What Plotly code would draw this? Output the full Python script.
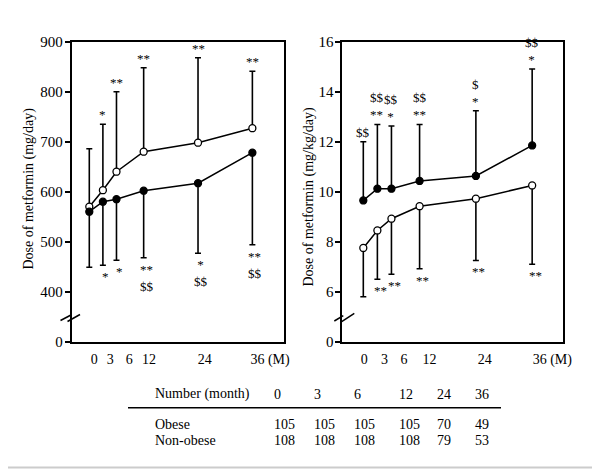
import plotly.graph_objects as go

# ---------------- data ----------------
months = [0, 3, 6, 12, 24, 36]
month_labels = ["0", "3", "6", "12", "24", "36 (M)"]

# mg/day (left panel)
obese_mgday = [570, 603, 640, 680, 698, 727]
obese_mgday_sd = [116, 132, 160, 168, 170, 114]
nonobese_mgday = [560, 580, 585, 602, 617, 678]
nonobese_mgday_sd = [111, 127, 122, 134, 140, 184]

# mg/kg/day (right panel)
obese_mgkg = [7.75, 8.45, 8.92, 9.42, 9.72, 10.25]
obese_mgkg_sd = [1.95, 1.95, 2.22, 2.5, 2.47, 3.15]
nonobese_mgkg = [9.65, 10.12, 10.12, 10.43, 10.63, 11.85]
nonobese_mgkg_sd = [2.35, 2.57, 2.51, 2.26, 2.61, 3.06]

# significance marks
left_upper_sig = ["", "*", "**", "**", "**", "**"]
left_lower_sig = ["", "*", "*", "**<br>$$", "*<br>$$", "**<br>$$"]
right_upper_sig = ["$$", "$$<br>**", "$$<br>*", "$$<br>**", "$<br>*", "$$<br>*"]
right_lower_sig = ["", "**", "**", "**", "**", "**"]

left_yticks = [300, 400, 500, 600, 700, 800, 900]
left_yticktext = ["0", "400", "500", "600", "700", "800", "900"]
right_yticks = [4, 6, 8, 10, 12, 14, 16]
right_yticktext = ["0", "6", "8", "10", "12", "14", "16"]

table_header = ["Number (month)", "0", "3", "6", "12", "24", "36"]
table_obese = ["Obese", "105", "105", "105", "105", "70", "49"]
table_nonobese = ["Non-obese", "108", "108", "108", "108", "79", "53"]

# ---------------- layout helpers ----------------
W, H = 600, 469
OFF = 8  # the page places the figure 8 px in from the top-left corner
FONT = "Liberation Serif"


def px(x):
    return (x - OFF) / W


def py(y):
    return 1 - (y - OFF) / H


fig = go.Figure()


def add_series(xa, ya, y, sd, up, filled):
    fig.add_trace(go.Scatter(
        x=months, y=y, xaxis=xa, yaxis=ya, mode="lines+markers",
        line=dict(color="black", width=1.5),
        marker=dict(size=7, color="black" if filled else "white",
                    line=dict(color="black", width=1.3)),
        error_y=dict(type="data", symmetric=False,
                     array=sd if up else [0] * len(sd),
                     arrayminus=[0] * len(sd) if up else sd,
                     color="black", thickness=1.6, width=3),
        showlegend=False, hoverinfo="skip"))


add_series("x", "y", obese_mgday, obese_mgday_sd, True, False)
add_series("x", "y", nonobese_mgday, nonobese_mgday_sd, False, True)
add_series("x2", "y2", obese_mgkg, obese_mgkg_sd, False, False)
add_series("x2", "y2", nonobese_mgkg, nonobese_mgkg_sd, True, True)

annotations = []
sig_font = dict(family=FONT, size=13, color="black")


def add_sig(xref, yref, means, sds, labels, up, xshift=0):
    for m, v, s, t in zip(months, means, sds, labels):
        if not t:
            continue
        if up:
            annotations.append(dict(x=m, y=v + s, xref=xref, yref=yref, text=t,
                                    showarrow=False, xanchor="center", yanchor="bottom",
                                    yshift=0, xshift=xshift, font=sig_font))
        else:
            annotations.append(dict(x=m, y=v - s, xref=xref, yref=yref, text=t,
                                    showarrow=False, xanchor="center", yanchor="top",
                                    yshift=-2, xshift=xshift + 3, font=sig_font))


add_sig("x", "y", obese_mgday, obese_mgday_sd, left_upper_sig, True)
add_sig("x", "y", nonobese_mgday, nonobese_mgday_sd, left_lower_sig, False)
add_sig("x2", "y2", nonobese_mgkg, nonobese_mgkg_sd, right_upper_sig, True)
add_sig("x2", "y2", obese_mgkg, obese_mgkg_sd, right_lower_sig, False)

# y-axis titles
annotations.append(dict(x=px(28.5), y=py(189), xref="paper", yref="paper",
                        xanchor="center", yanchor="middle",
                        text="Dose of metformin (mg/day)", textangle=-90,
                        showarrow=False, font=dict(family=FONT, size=14, color="black")))
annotations.append(dict(x=px(308.5), y=py(197), xref="paper", yref="paper",
                        xanchor="center", yanchor="middle",
                        text="Dose of metformin (mg/kg/day)", textangle=-90,
                        showarrow=False, font=dict(family=FONT, size=14, color="black")))

# table
col_x = [153, 272, 312, 352, 397, 435, 473]
tab_font = dict(family=FONT, size=14, color="black")
for row, yy in ((table_header, 394), (table_obese, 424), (table_nonobese, 440)):
    for t, xx in zip(row, col_x):
        annotations.append(dict(x=px(xx), y=py(yy), xref="paper", yref="paper",
                                text=t, showarrow=False, xanchor="left",
                                yanchor="middle", font=tab_font))

shapes = [
    dict(type="line", xref="paper", yref="paper", x0=px(128), x1=px(501),
         y0=py(407.7), y1=py(407.7), line=dict(color="black", width=1.5)),
    dict(type="line", xref="paper", yref="paper", x0=0, x1=1,
         y0=py(467.5), y1=py(467.5), line=dict(color="#cccccc", width=2)),
]
# axis break marks
for (x0, y0, x1, y1) in [(60.5, 320.5, 71, 315), (67.5, 321.5, 80, 314.5),
                         (334.3, 321, 343.3, 315.7), (341.7, 321.7, 354.3, 313.3)]:
    shapes.append(dict(type="line", xref="paper", yref="paper", x0=px(x0), x1=px(x1),
                       y0=py(y0), y1=py(y1), line=dict(color="black", width=1.5)))

left_tick_pos = [1.1, 4.6, 8.8, 13.2, 25.5, 39.9]
right_tick_pos = [0.2, 4.5, 8.7, 14.1, 25.9, 40.3]

axis_common = dict(showgrid=False, zeroline=False, showline=True, linecolor="black",
                   linewidth=1.8, mirror=True, automargin=False,
                   tickfont=dict(family=FONT, size=14, color="black"))
ytick_font = dict(family=FONT, size=15, color="black")

fig.update_layout(
    width=W, height=H, margin=dict(l=0, r=0, t=0, b=0, pad=0, autoexpand=False),
    paper_bgcolor="white", plot_bgcolor="white",
    font=dict(family=FONT, color="black"),
    xaxis=dict(domain=[px(71.7), px(284)], range=[-3.885, 42.98], anchor="y",
               tickvals=left_tick_pos, ticktext=month_labels, ticks="",
               ticklabelstandoff=4, **axis_common),
    yaxis=dict(domain=[py(341.7), py(41.7)], range=[300, 900], anchor="x",
               tickvals=left_yticks, ticktext=left_yticktext, ticks="outside",
               ticklen=5, tickwidth=1.5, tickcolor="black", ticklabelstandoff=-1,
               **{**axis_common, "tickfont": ytick_font}),
    xaxis2=dict(domain=[px(342.3), px(563.3)], range=[-4.48, 42.64], anchor="y2",
                tickvals=right_tick_pos, ticktext=month_labels, ticks="",
                ticklabelstandoff=4, **axis_common),
    yaxis2=dict(domain=[py(341.7), py(41.7)], range=[4, 16], anchor="x2",
                tickvals=right_yticks, ticktext=right_yticktext, ticks="outside",
                ticklen=5, tickwidth=1.5, tickcolor="black", ticklabelstandoff=-1,
                **{**axis_common, "tickfont": ytick_font}),
    annotations=annotations, shapes=shapes,
)

fig.write_html("out.html")
